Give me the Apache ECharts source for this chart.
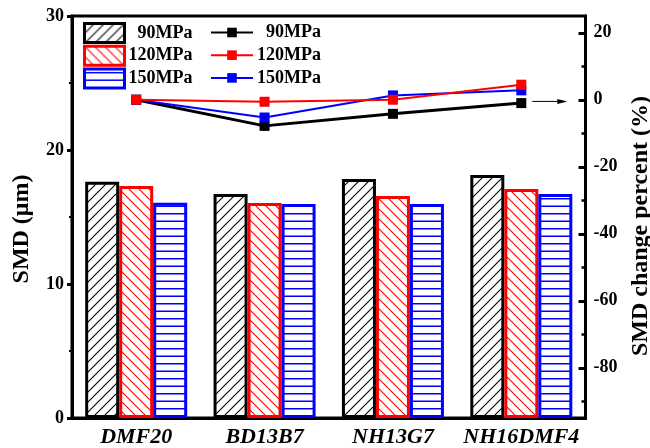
<!DOCTYPE html>
<html>
<head>
<meta charset="utf-8">
<script src="https://cdn.jsdelivr.net/npm/echarts@6/dist/echarts.min.js"></script>
<style>
  html, body { margin: 0; padding: 0; background: #fff; }
  #chart { width: 650px; height: 448px; }
</style>
</head>
<body>
<div id="chart"></div>
<script>
// Fuel samples on the x axis
const categories = ['DMF20', 'BD13B7', 'NH13G7', 'NH16DMF4'];
const pressures = ['90MPa', '120MPa', '150MPa'];

// Sauter mean diameter (μm), left axis
const smd90 = [17.63, 16.72, 17.84, 18.13];
const smd120 = [17.31, 16.04, 16.57, 17.09];
const smd150 = [16.07, 15.97, 15.97, 16.72];

// SMD change percent (%), right axis
const change90 = [0, -7.8, -4.2, -1.0];
const change120 = [0, -0.6, 0.0, 4.5];
const change150 = [0, -5.3, 1.3, 2.8];

// Axis ticks
const leftTicks = [0, 10, 20, 30];
const rightTicks = [-80, -60, -40, -20, 0, 20];
const rightMinorTicks = [-90, -70, -50, -30, -10, 10];

const FONT = '"Times New Roman", "Liberation Serif", serif';

// Hatch fills for the bars
function hatch(color, kind) {
  const c = document.createElement('canvas');
  const ctx = c.getContext('2d');
  if (kind === 'h') {
    c.width = 4; c.height = 15;
    ctx.fillStyle = color;
    ctx.fillRect(0, 3, 4, 1.5);
    ctx.fillRect(0, 10.5, 4, 1.5);
  } else {
    const s = 10;
    c.width = s; c.height = s;
    ctx.strokeStyle = color;
    ctx.lineWidth = 1.1;
    ctx.beginPath();
    if (kind === '/') {
      ctx.moveTo(-2, s + 2); ctx.lineTo(s + 2, -2);
      ctx.moveTo(-2, 2); ctx.lineTo(2, -2);
      ctx.moveTo(s - 2, s + 2); ctx.lineTo(s + 2, s - 2);
    } else {
      ctx.moveTo(-2, -2); ctx.lineTo(s + 2, s + 2);
      ctx.moveTo(s - 2, -2); ctx.lineTo(s + 2, 2);
      ctx.moveTo(-2, s - 2); ctx.lineTo(2, s + 2);
    }
    ctx.stroke();
  }
  return { image: c, repeat: 'repeat' };
}

const colors = ['#000000', '#ff0000', '#0000ff'];
const fills = [hatch('#000', '/'), hatch('#ff0000', '\\'), hatch('#0000ff', 'h')];
const smdData = [smd90, smd120, smd150];
const changeData = [change90, change120, change150];

const barSeries = pressures.map((p, i) => ({
  name: 'SMD ' + p,
  type: 'bar',
  data: smdData[i],
  barWidth: 34,
  barGap: '0%',
  itemStyle: { color: fills[i], borderColor: colors[i], borderWidth: 3 }
}));

const lineWidths = [3, 2, 2];
const lineZ = [3, 5, 4];
const lineSeries = pressures.map((p, i) => ({
  name: 'Change ' + p,
  type: 'line',
  yAxisIndex: 1,
  data: changeData[i],
  symbol: 'rect',
  symbolSize: 10,
  z: lineZ[i],
  lineStyle: { color: colors[i], width: lineWidths[i] },
  itemStyle: { color: colors[i] }
}));

const legendRich = (w) => ({
  rich: {
    t: { width: w, align: 'right', fontSize: 18, fontWeight: 'bold', fontFamily: FONT, color: '#000', lineHeight: 19 }
  }
});

const chart = echarts.init(document.getElementById('chart'), null, { renderer: 'canvas' });

chart.setOption({
  animation: false,
  backgroundColor: '#fff',
  grid: {
    left: 72, right: 64.5, top: 16, bottom: 30,
    outerBoundsMode: 'none',
    containLabel: false,
    show: true, borderColor: '#000', borderWidth: 3
  },
  legend: [
    {
      data: pressures.map(p => ({ name: 'SMD ' + p, icon: 'rect' })),
      orient: 'vertical', left: 83, top: 22, padding: 0,
      itemWidth: 40, itemHeight: 19, itemGap: 0.7,
      selectedMode: false,
      itemStyle: { borderWidth: 3 },
      formatter: n => '{t|' + n.split(' ')[1] + '}',
      textStyle: legendRich(63)
    },
    {
      data: pressures.map(p => 'Change ' + p),
      orient: 'vertical', left: 210, top: 23.5, padding: 0,
      itemWidth: 42, itemHeight: 12, itemGap: 4.7,
      selectedMode: false,
      formatter: n => '{t|' + n.split(' ')[1] + '}',
      textStyle: legendRich(63)
    }
  ],
  xAxis: {
    type: 'category',
    data: categories,
    axisLine: { lineStyle: { color: '#000', width: 3 } },
    axisTick: { show: false },
    axisLabel: {
      interval: 0,
      color: '#000', fontSize: 22, fontWeight: 'bold', fontStyle: 'italic',
      fontFamily: FONT, margin: 8
    }
  },
  yAxis: [
    {
      type: 'value', min: 0, max: 30, interval: 10,
      name: 'SMD (μm)', nameLocation: 'middle', nameGap: 38,
      nameTextStyle: { color: '#000', fontSize: 24, fontWeight: 'bold', fontFamily: FONT, padding: [0, 24, 0, 0] },
      axisLine: { show: true, lineStyle: { color: '#000', width: 3 } },
      axisTick: { show: true, length: 5, lineStyle: { width: 3, color: '#000' }, customValues: leftTicks },
      minorTick: { show: true, splitNumber: 2, length: 3, lineStyle: { width: 2, color: '#000' } },
      splitLine: { show: false },
      axisLabel: { color: '#000', fontSize: 18, fontWeight: 'bold', fontFamily: FONT, margin: 8, customValues: leftTicks }
    },
    {
      type: 'value', min: -95, max: 25, position: 'right',
      name: 'SMD change percent (%)', nameLocation: 'middle', nameGap: 38,
      nameTextStyle: { color: '#000', fontSize: 24, fontWeight: 'bold', fontFamily: FONT, padding: [0, 18, 0, 0] },
      axisLine: { show: true, lineStyle: { color: '#000', width: 3 } },
      axisTick: { show: true, inside: true, length: 7, lineStyle: { width: 3, color: '#000' }, customValues: rightTicks },
      splitLine: { show: false },
      axisLabel: { color: '#000', fontSize: 18, fontWeight: 'bold', fontFamily: FONT, margin: 8, customValues: rightTicks }
    },
    {
      // minor ticks of the right axis
      type: 'value', min: -95, max: 25, position: 'right',
      axisLine: { show: false },
      axisTick: { show: true, inside: true, length: 4, lineStyle: { width: 2.5, color: '#000' }, customValues: rightMinorTicks },
      splitLine: { show: false },
      axisLabel: { show: false }
    }
  ],
  series: barSeries.concat(lineSeries)
});

// Arrow pointing from the line series to the right axis
const p = chart.convertToPixel({ seriesIndex: 3 }, [3, -0.5]);
chart.setOption({
  graphic: [
    {
      type: 'line', z: 10,
      shape: { x1: p[0] + 11, y1: p[1], x2: p[0] + 38, y2: p[1] },
      style: { stroke: '#000', lineWidth: 1 }
    },
    {
      type: 'polygon', z: 10,
      shape: { points: [[p[0] + 36, p[1] - 2.5], [p[0] + 46, p[1]], [p[0] + 36, p[1] + 2.5]] },
      style: { fill: '#000' }
    }
  ]
});
</script>
</body>
</html>
